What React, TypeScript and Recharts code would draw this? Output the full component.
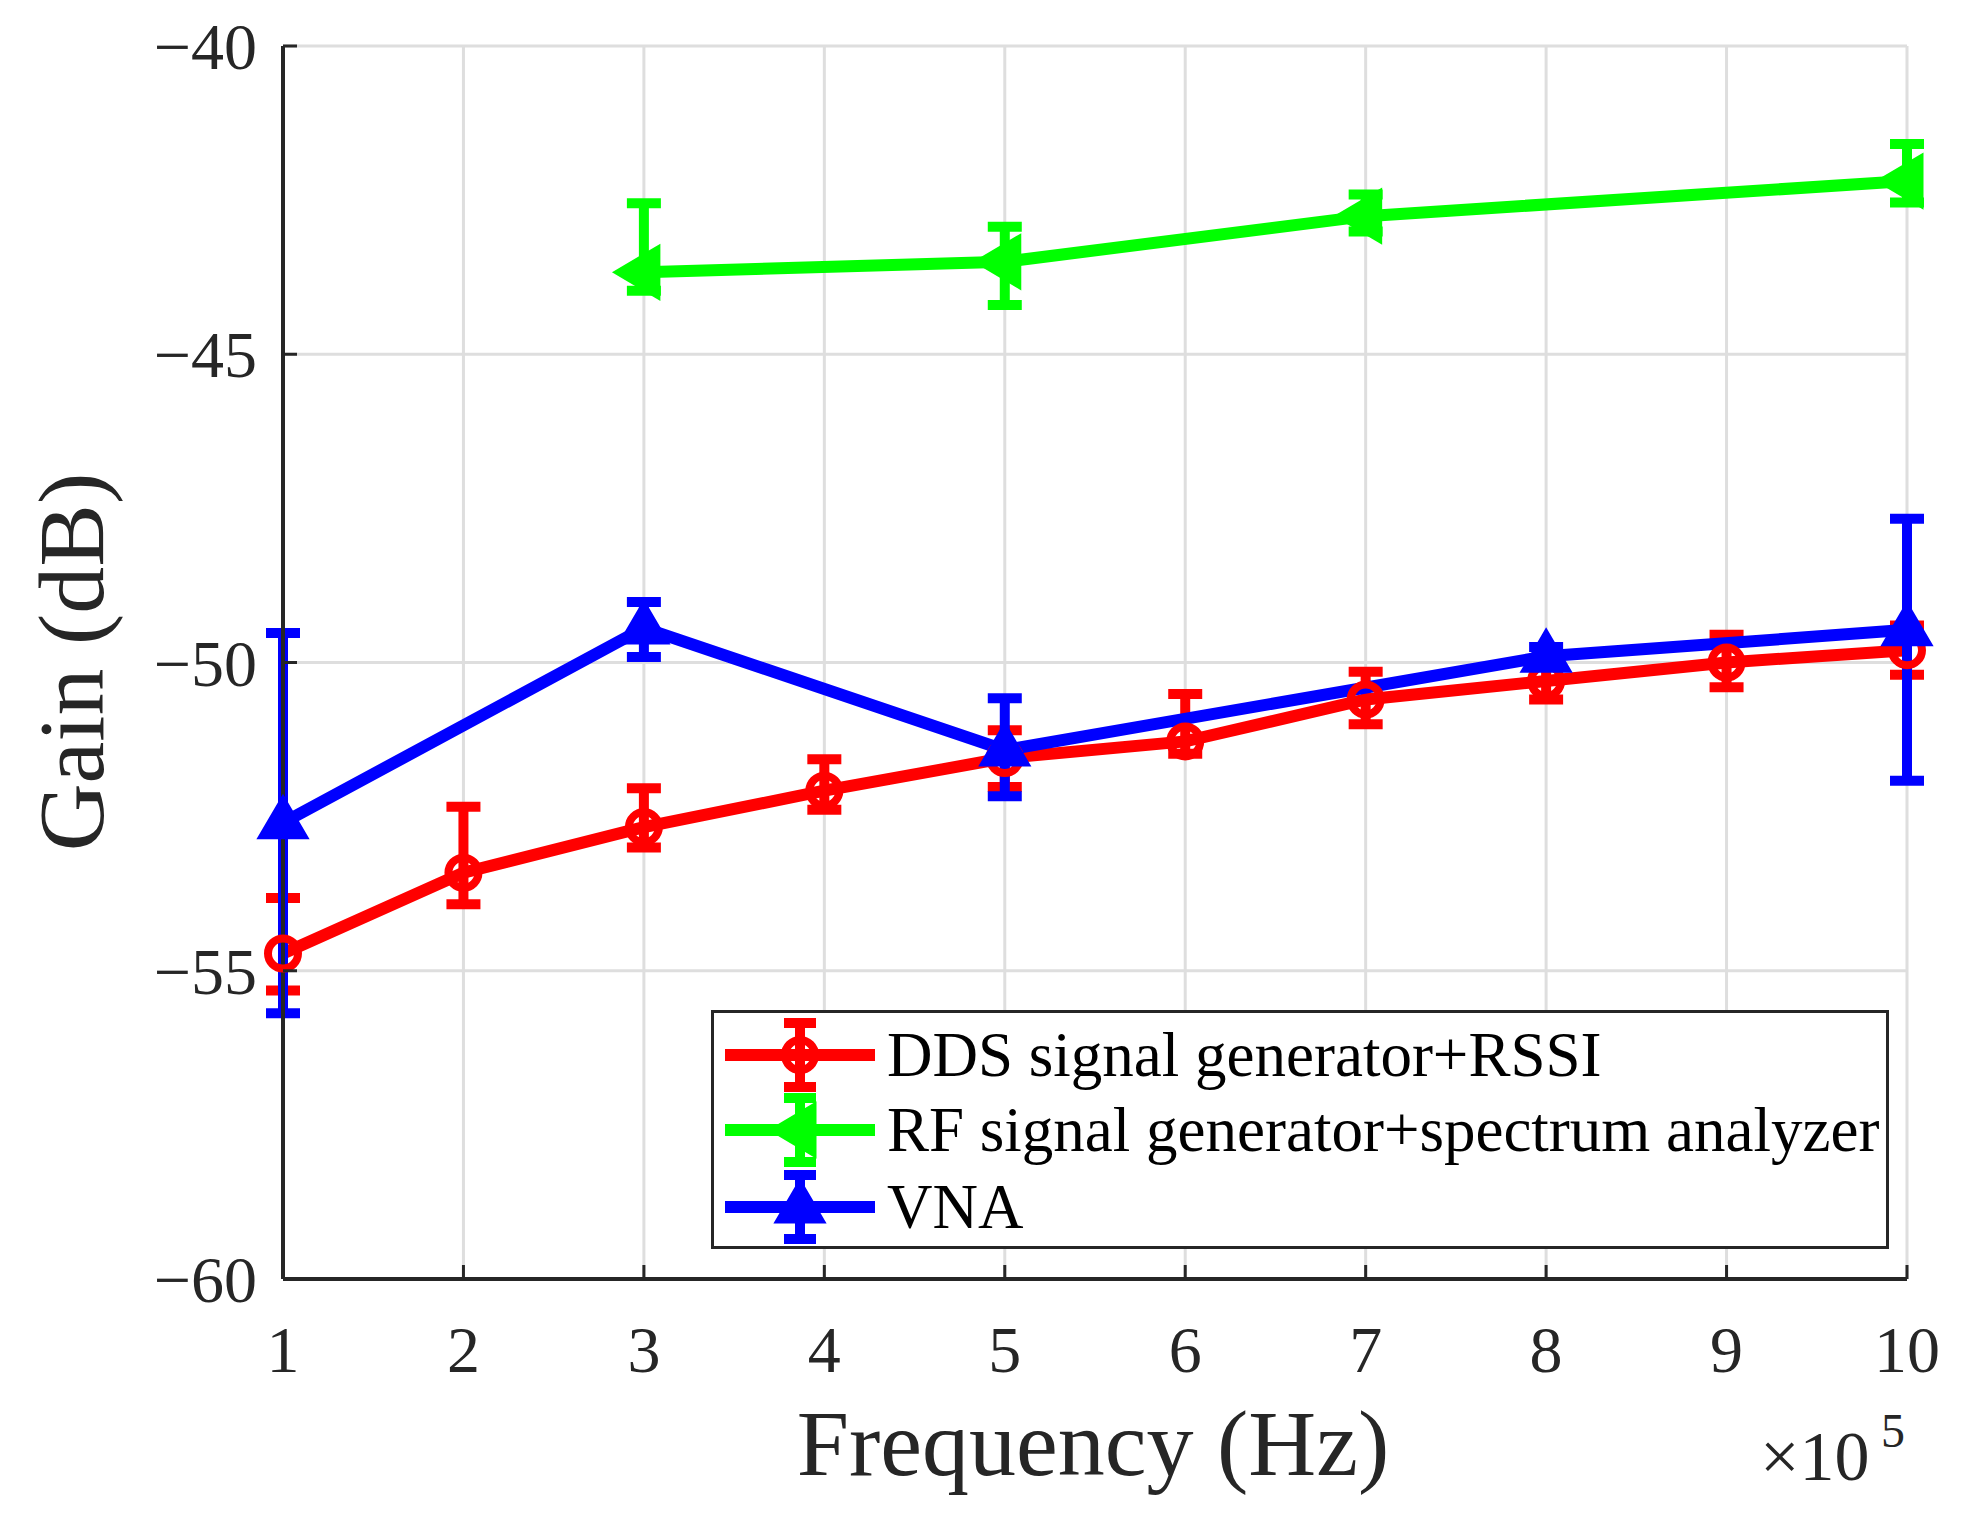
import React from "react";
import {
  LineChart,
  Line,
  XAxis,
  YAxis,
  CartesianGrid,
  ErrorBar,
  Legend,
  Label,
} from "recharts";

// axis ticks
const xTicks = [1, 2, 3, 4, 5, 6, 7, 8, 9, 10];
const yTicks = [-60, -55, -50, -45, -40];

// DDS signal generator + RSSI
const ddsFreq = [1, 2, 3, 4, 5, 6, 7, 8, 9, 10];
const ddsGain = [-54.72, -53.41, -52.67, -52.08, -51.55, -51.28, -50.6, -50.3, -50.0, -49.8];
const ddsErrDown = [0.6, 0.51, 0.33, 0.31, 0.47, 0.2, 0.4, 0.3, 0.4, 0.4];
const ddsErrUp = [0.9, 1.07, 0.63, 0.51, 0.45, 0.77, 0.45, 0.25, 0.45, 0.4];

// RF signal generator + spectrum analyzer
const rfFreq = [3, 5, 7, 10];
const rfGain = [-43.67, -43.5, -42.76, -42.19];
const rfErrDown = [0.3, 0.7, 0.25, 0.35];
const rfErrUp = [1.12, 0.57, 0.35, 0.6];

// VNA
const vnaFreq = [1, 3, 5, 8, 10];
const vnaGain = [-52.6, -49.44, -51.42, -49.9, -49.47];
const vnaErrDown = [3.09, 0.47, 0.75, 0.15, 2.45];
const vnaErrUp = [3.08, 0.42, 0.84, 0.15, 1.8];

const toRows = (f: number[], g: number[], lo: number[], hi: number[]) =>
  f.map((x, i) => ({ x, y: g[i], err: [lo[i], hi[i]] }));

const ddsRows = toRows(ddsFreq, ddsGain, ddsErrDown, ddsErrUp);
const rfRows = toRows(rfFreq, rfGain, rfErrDown, rfErrUp);
const vnaRows = toRows(vnaFreq, vnaGain, vnaErrDown, vnaErrUp);

const FONT = '"Liberation Serif", "Times New Roman", serif';
const AXIS = "#262626";
const RED = "#ff0000";
const GREEN = "#00ff00";
const BLUE = "#0000ff";

const W = 1946;
const H = 1505;

type Shape = "circle" | "left" | "up";

const Marker = ({ cx, cy, shape, color }: { cx: number; cy: number; shape: Shape; color: string }) => {
  if (shape === "circle")
    return <circle cx={cx} cy={cy} r={15} fill="none" stroke={color} strokeWidth={8} />;
  if (shape === "left")
    return (
      <polygon
        points={`${cx - 29},${cy} ${cx + 15},${cy - 26} ${cx + 15},${cy + 26}`}
        fill={color}
        stroke={color}
        strokeWidth={3}
      />
    );
  return (
    <polygon
      points={`${cx},${cy - 26} ${cx - 24},${cy + 15} ${cx + 24},${cy + 15}`}
      fill={color}
      stroke={color}
      strokeWidth={3}
    />
  );
};

const dotFor = (shape: Shape, color: string) => (p: any) => (
  <g key={`${shape}-${p.index}`}>
    {p.cx != null && p.cy != null ? <Marker cx={p.cx} cy={p.cy} shape={shape} color={color} /> : null}
  </g>
);

const series = [
  { name: "DDS signal generator+RSSI", color: RED, shape: "circle" as Shape },
  { name: "RF signal generator+spectrum analyzer", color: GREEN, shape: "left" as Shape },
  { name: "VNA", color: BLUE, shape: "up" as Shape },
];

const LegendBox = () => {
  const rows = [42, 117, 194];
  return (
    <div
      style={{
        width: 1178,
        height: 239,
        boxSizing: "border-box",
        border: `3px solid ${AXIS}`,
        background: "#fff",
      }}
    >
      <svg width={1172} height={233} style={{ display: "block" }}>
        {series.map((s, i) => {
          const cy = rows[i];
          return (
            <g key={s.name}>
              <line x1={11} x2={161} y1={cy} y2={cy} stroke={s.color} strokeWidth={12} />
              <line x1={86} x2={86} y1={cy - 32} y2={cy + 32} stroke={s.color} strokeWidth={10} />
              <line x1={70} x2={102} y1={cy - 32} y2={cy - 32} stroke={s.color} strokeWidth={10} />
              <line x1={70} x2={102} y1={cy + 32} y2={cy + 32} stroke={s.color} strokeWidth={10} />
              <Marker cx={86} cy={cy} shape={s.shape} color={s.color} />
              <text x={173} y={cy + 21} fontFamily={FONT} fontSize={63} fill="#000">
                {s.name}
              </text>
            </g>
          );
        })}
      </svg>
    </div>
  );
};

const fmtY = (v: number) => (v < 0 ? `\u2212${Math.abs(v)}` : `${v}`);

const BottomTick = (p: any) => (
  <g>
    <line x1={p.x} x2={p.x} y1={p.y} y2={p.y - 14} stroke={AXIS} strokeWidth={3} />
    <text x={p.x} y={p.y + 93} textAnchor="middle" fontFamily={FONT} fontSize={66} fill="#262626">
      {p.payload.value}
    </text>
  </g>
);

const TopTick = (p: any) => (
  <line x1={p.x} x2={p.x} y1={p.y} y2={p.y + 14} stroke={AXIS} strokeWidth={3} />
);

const LeftTick = (p: any) => (
  <g>
    <line x1={p.x} x2={p.x + 14} y1={p.y} y2={p.y} stroke={AXIS} strokeWidth={3} />
    <text x={p.x - 26} y={p.y + 23} textAnchor="end" fontFamily={FONT} fontSize={66} fill="#262626">
      {fmtY(p.payload.value)}
    </text>
  </g>
);

const RightTick = (p: any) => (
  <line x1={p.x} x2={p.x - 14} y1={p.y} y2={p.y} stroke={AXIS} strokeWidth={3} />
);

const XLabel = () => (
  <g fontFamily={FONT} fill="#262626">
    <text x={1085} y={1467} textAnchor="middle" fontSize={94}>
      Frequency (Hz)
    </text>
    <text x={1752} y={1472} fontSize={70}>
      ×10
    </text>
    <text x={1873} y={1439} fontSize={48}>
      5
    </text>
  </g>
);

const YLabel = () => (
  <text
    x={95}
    y={654}
    transform="rotate(-90, 95, 654)"
    textAnchor="middle"
    fontFamily={FONT}
    fontSize={94}
    fill="#262626"
  >
    Gain (dB)
  </text>
);

const App = () => {
  return (
    <div style={{ width: W, height: H, background: "#fff" }}>
      <LineChart width={W} height={H} margin={{ top: 38, right: 47, bottom: 0, left: 0 }}>
        <CartesianGrid stroke="#dedede" strokeWidth={3} />
        <XAxis
          dataKey="x"
          type="number"
          domain={[1, 10]}
          ticks={xTicks}
          height={234}
          tickSize={0}
          tickMargin={0}
          tickLine={false}
          axisLine={{ stroke: AXIS, strokeWidth: 4 }}
          tick={BottomTick}
          interval={0}
        >
          <Label content={XLabel} />
        </XAxis>
        <XAxis
          xAxisId="top"
          orientation="top"
          dataKey="x"
          type="number"
          domain={[1, 10]}
          ticks={xTicks}
          height={0}
          tickSize={0}
          tickMargin={0}
          tickLine={false}
          axisLine={{ stroke: AXIS, strokeWidth: 4 }}
          tick={TopTick}
          interval={0}
        />
        <YAxis
          type="number"
          domain={[-60, -40]}
          ticks={yTicks}
          width={275}
          tickSize={0}
          tickMargin={0}
          tickLine={false}
          axisLine={{ stroke: AXIS, strokeWidth: 4 }}
          tick={LeftTick}
          interval={0}
          allowDataOverflow
        >
          <Label content={YLabel} />
        </YAxis>
        <YAxis
          yAxisId="right"
          orientation="right"
          type="number"
          domain={[-60, -40]}
          ticks={yTicks}
          width={0}
          tickSize={0}
          tickMargin={0}
          tickLine={false}
          axisLine={{ stroke: AXIS, strokeWidth: 4 }}
          tick={RightTick}
          interval={0}
          allowDataOverflow
        />
        <Legend
          layout="vertical"
          align="center"
          verticalAlign="middle"
          wrapperStyle={{ left: 703, top: 1002, width: 1178 }}
          content={LegendBox}
        />
        <Line
          data={ddsRows}
          dataKey="y"
          name={series[0].name}
          stroke={RED}
          strokeWidth={12}
          dot={dotFor("circle", RED)}
          activeDot={false}
          isAnimationActive={false}
        >
          <ErrorBar dataKey="err" direction="y" width={17} strokeWidth={10} stroke={RED} isAnimationActive={false} />
        </Line>
        <Line
          data={rfRows}
          dataKey="y"
          name={series[1].name}
          stroke={GREEN}
          strokeWidth={12}
          dot={dotFor("left", GREEN)}
          activeDot={false}
          isAnimationActive={false}
        >
          <ErrorBar dataKey="err" direction="y" width={17} strokeWidth={10} stroke={GREEN} isAnimationActive={false} />
        </Line>
        <Line
          data={vnaRows}
          dataKey="y"
          name={series[2].name}
          stroke={BLUE}
          strokeWidth={12}
          dot={dotFor("up", BLUE)}
          activeDot={false}
          isAnimationActive={false}
        >
          <ErrorBar dataKey="err" direction="y" width={17} strokeWidth={10} stroke={BLUE} isAnimationActive={false} />
        </Line>
      </LineChart>
    </div>
  );
};

export default App;
